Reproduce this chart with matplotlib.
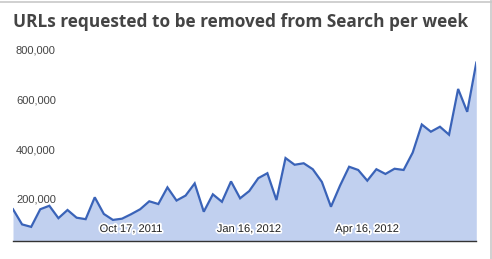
import matplotlib
matplotlib.use("Agg")
import matplotlib.pyplot as plt
import matplotlib.dates as mdates
import matplotlib.patheffects as pe
import numpy as np
import datetime as dt

# weekly removal requests, in thousands
week_start = dt.date(2011, 7, 18)
n_weeks = 52
values_k = [162, 101, 91, 162, 176, 126, 159, 128, 122, 210,
            143, 119, 124, 142, 162, 194, 183, 250, 197, 217,
            266, 152, 222, 192, 274, 206, 235, 287, 307, 199,
            368, 341, 347, 323, 272, 172, 257, 333, 320, 277,
            323, 304, 325, 320, 390, 503, 474, 494, 462, 646,
            554, 752]
ytick_vals = [200000, 400000, 600000, 800000]
date_ticks = [dt.date(2011, 10, 17), dt.date(2012, 1, 16), dt.date(2012, 4, 16)]
date_labels = ["Oct 17, 2011", "Jan 16, 2012", "Apr 16, 2012"]
title = "URLs requested to be removed from Search per week"

dates = [week_start + dt.timedelta(weeks=i) for i in range(n_weeks)]
values = np.array(values_k) * 1000

W, H = 492, 259
fig = plt.figure(figsize=(W / 100, H / 100), dpi=100)
fig.patch.set_facecolor("white")

# axes spans pixel x 13..476.3, y 241 (bottom) .. 40 (top)
ax = fig.add_axes([13 / W, (H - 241) / H, (476.3 - 13) / W, (241 - 40) / H])
y0 = (249.5 - 241) * 4024
y1 = (249.5 - 40) * 4024
ax.set_ylim(y0, y1)
ax.set_xlim(dates[0], dates[-1])

ax.fill_between(dates, y0, values, color="#3366cc", alpha=0.3, linewidth=0)
ax.plot(dates, values, color="#3a63b8", linewidth=1.6, solid_joinstyle="miter")

for s in ["top", "right", "left"]:
    ax.spines[s].set_visible(False)
ax.spines["bottom"].set_color("#333333")
ax.spines["bottom"].set_linewidth(1.0)
ax.set_xticks([])
ax.set_yticks([])

# y labels drawn inside the chart, left aligned
for v in ytick_vals:
    ypix = ax.transData.transform((mdates.date2num(dates[0]), v))[1]
    fig.text(16 / W, ypix / H, f"{v:,}", ha="left", va="center",
             fontsize=8, family="Liberation Sans", color="#444444")

# date labels inside the plot, just above the baseline
label_y = (241 - 229) / (241 - 40)
for d, lab in zip(date_ticks, date_labels):
    ax.text(d, label_y, lab, transform=ax.get_xaxis_transform(),
            ha="center", va="center", fontsize=8, family="Liberation Sans", color="#222222",
            path_effects=[pe.withStroke(linewidth=2.5, foreground="white")])

fig.text(13 / W, 1 - 22 / H, title, ha="left", va="center", fontsize=12.4,
         family="Open Sans", fontweight="bold", color="#444444")

# frame lines at the top and right edge
fig.add_artist(plt.Line2D([0, 1], [1 - 1.5 / H, 1 - 1.5 / H], transform=fig.transFigure,
                          color="#c8c8c8", linewidth=1.2))
fig.add_artist(plt.Line2D([490.5 / W, 490.5 / W], [0, 1], transform=fig.transFigure,
                          color="#c8c8c8", linewidth=1.2))

fig.savefig("out.png", dpi=100, facecolor="white")
